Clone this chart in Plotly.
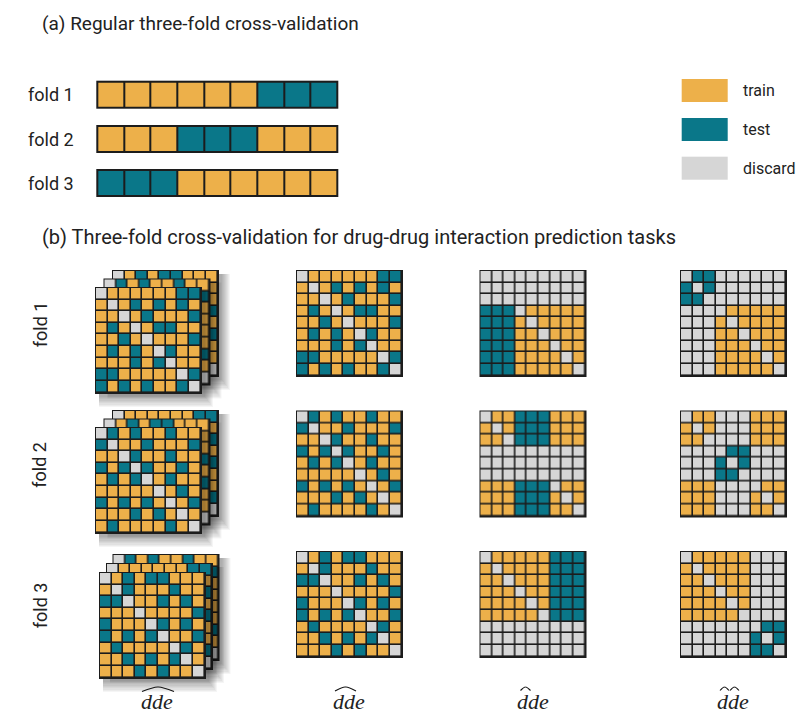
import plotly.graph_objects as go

# ---------------- data ----------------
CLASSES = ["train", "test", "discard"]
COLORS = ["#EDB04A", "#0A7789", "#D6D6D6"]
CODE = {"T": 0, "E": 1, "D": 2}

FOLD_LABELS = ["fold 1", "fold 2", "fold 3"]

# (a) regular three-fold CV: one row of 9 samples per fold
REGULAR_FOLDS = [
    "TTTTTTEEE",
    "TTTEEETTT",
    "EEETTTTTT",
]

# (b) column 2: random split of drug pairs
PAIR_SPLIT = [
    ["DTTTTTTEE", "TDTETETET", "TTDTETTTE", "TETDTEETT", "TTETDTTTE",
     "TETETDETT", "TTTETEDTT", "EETTTTTDE", "ETETETTED"],
    ["DETETTETT", "EDTTETTTE", "TTDETTETT", "ETEDETTET", "TETEDTETT",
     "TTTTTDTET", "ETETETDTE", "TTTETETDT", "TETTTTETD"],
    ["DTETEETTT", "TDETTTETT", "EEDTTETET", "TTTDTTTTE", "ETTTDETET",
     "ETETEDTTE", "TETTTTDET", "TTETETEDT", "TTTETETTD"],
]

# (b) column 3: one drug unseen
ONE_DRUG_SPLIT = [
    ["DDDDDDDDD", "DDDDDDDDD", "DDDDDDDDD", "EEEDTTTTT", "EEETDTTTT",
     "EEETTDTTT", "EEETTTDTT", "EEETTTTDT", "EEETTTTTD"],
    ["DTTEEETTT", "TDTEEETTT", "TTDEEETTT", "DDDDDDDDD", "DDDDDDDDD",
     "DDDDDDDDD", "TTTEEEDTT", "TTTEEETDT", "TTTEEETTD"],
    ["DTTTTTEEE", "TDTTTTEEE", "TTDTTTEEE", "TTTDTTEEE", "TTTTDTEEE",
     "TTTTTDEEE", "DDDDDDDDD", "DDDDDDDDD", "DDDDDDDDD"],
]

# (b) column 4: both drugs unseen
TWO_DRUG_SPLIT = [
    ["DEEDDDDDD", "EDEDDDDDD", "EEDDDDDDD", "DDDDTTTTT", "DDDTDTTTT",
     "DDDTTDTTT", "DDDTTTDTT", "DDDTTTTDT", "DDDTTTTTD"],
    ["DTTDDDTTT", "TDTDDDTTT", "TTDDDDTTT", "DDDDEEDDD", "DDDEDEDDD",
     "DDDEEDDDD", "TTTDDDDTT", "TTTDDDTDT", "TTTDDDTTD"],
    ["DTTTTTDDD", "TDTTTTDDD", "TTDTTTDDD", "TTTDTTDDD", "TTTTDTDDD",
     "TTTTTDDDD", "DDDDDDDEE", "DDDDDDEDE", "DDDDDDEED"],
]

# column 1: stacks of interaction-type matrices (back -> front) per fold
STACK_ORDER = [[2, 1, 0], [0, 2, 1], [1, 0, 2]]

COLUMN_LABELS = ["dde", "dde", "dde", "dde"]
TITLE_A = "(a) Regular three-fold cross-validation"
TITLE_B = "(b) Three-fold cross-validation for drug-drug interaction prediction tasks"

# ---------------- layout constants ----------------
W, H = 797, 715
FONT = "Roboto"
TXT = "#222222"
LINE = "#1c1c1c"
GRID = 104.5
N = 9
CELL = GRID / N

BAR_X0, BAR_CW, BAR_CH = 97.3, 26.67, 26.0
BAR_TOPS = [81.7, 126.0, 170.0]

COL_X = [297.0, 480.5, 681.0]
ROW_Y = [271.0, 411.5, 552.0]
STACK_POS = [
    [(113.0, 271.0), (104.5, 279.5), (96.0, 288.0)],
    [(113.0, 411.0), (104.5, 419.5), (96.0, 428.0)],
    [(113.5, 555.0), (107.0, 564.0), (100.0, 573.0)],
]
LEG_X0, LEG_W, LEG_H = 681.7, 46.0, 23.3
LEG_TOPS = [79.0, 118.0, 156.7]

CSCALE = [[0.0, COLORS[0]], [0.5, COLORS[1]], [1.0, COLORS[2]]]

fig = go.Figure()


def solid(x0, y0, w, h, color, opacity=1.0):
    fig.add_trace(go.Heatmap(
        z=[[0]], x0=x0 + w / 2, dx=w, y0=y0 + h / 2, dy=h,
        colorscale=[[0, color], [1, color]], showscale=False,
        hoverinfo="skip", opacity=opacity))


def cells(rows, x0, y0, cw, ch, gap, pad):
    z = [[CODE[c] for c in r] for r in rows]
    ncols, nrows = len(z[0]), len(z)
    solid(x0 - pad, y0 - pad, ncols * cw + 2 * pad, nrows * ch + 2 * pad, LINE)
    fig.add_trace(go.Heatmap(
        z=z, x0=x0 + cw / 2, dx=cw, y0=y0 + ch / 2, dy=ch,
        colorscale=CSCALE, zmin=0, zmax=2, showscale=False,
        xgap=gap, ygap=gap, hoverinfo="skip"))


def shadow(x0, y0, w, h):
    for k in range(1, 10):
        solid(x0 + 3, y0 + 3, w + 1.0 * k, h + 1.3 * k, "#000000", 0.04)


annotations = []


def text(x, y, s, size=16, xanchor="left", angle=0, family=FONT):
    annotations.append(dict(x=x, y=y, xref="x", yref="y", text=s,
                            showarrow=False, xanchor=xanchor, yanchor="middle",
                            textangle=angle,
                            font=dict(family=family, size=size, color=TXT)))


# (a)
text(40, 23, TITLE_A, size=19)
for i, row in enumerate(REGULAR_FOLDS):
    cells([row], BAR_X0, BAR_TOPS[i], BAR_CW, BAR_CH, gap=2, pad=1)
    text(26, BAR_TOPS[i] + BAR_CH / 2, FOLD_LABELS[i], size=18)

# legend
for i, name in enumerate(CLASSES):
    solid(LEG_X0, LEG_TOPS[i], LEG_W, LEG_H, COLORS[i])
    text(741, LEG_TOPS[i] + LEG_H / 2, name, size=16)

# (b)
text(40, 237, TITLE_B, size=20)
splits = [PAIR_SPLIT, ONE_DRUG_SPLIT, TWO_DRUG_SPLIT]
for f in range(3):
    # stacked interaction matrices
    for layer, src in enumerate(STACK_ORDER[f]):
        x0, y0 = STACK_POS[f][layer]
        shadow(x0, y0, GRID, GRID)
        cells(PAIR_SPLIT[src], x0, y0, CELL, CELL, gap=1.6, pad=1)
    for c, split in enumerate(splits):
        cells(split[f], COL_X[c], ROW_Y[f], CELL, CELL, gap=1.6, pad=1)
    text(40, ROW_Y[f] + GRID / 2 + 1, FOLD_LABELS[f], size=18,
         xanchor="center", angle=-90)

# column labels (italic serif) with hats
LABEL_CX = [157.0, 349.0, 532.5, 733.0]
LABEL_Y = 701
for c, lab in enumerate(COLUMN_LABELS):
    text(LABEL_CX[c], LABEL_Y, "<i>" + lab + "</i>", size=22,
         xanchor="center", family="Liberation Serif")

shapes = []


def hat(xa, xb, ytop, depth=4.5):
    xm = (xa + xb) / 2
    shapes.append(dict(type="path", xref="x", yref="y",
                       path=f"M {xa},{ytop + depth} Q {xm - (xb - xa) * 0.1},{ytop - 0.5} {xm},{ytop} Q {xm + (xb - xa) * 0.1},{ytop - 0.5} {xb},{ytop + depth}",
                       line=dict(color="#111111", width=1.1)))


HAT_Y = 687.0
cx = LABEL_CX
hat(cx[0] - 15, cx[0] + 17, HAT_Y)
hat(cx[1] - 14, cx[1] + 7, HAT_Y, 4)
hat(cx[2] - 12, cx[2] - 2, HAT_Y, 3.5)
hat(cx[3] - 13, cx[3] - 4, HAT_Y, 3.5)
hat(cx[3] - 3, cx[3] + 6, HAT_Y, 3.5)

fig.update_layout(
    width=W, height=H, autosize=False,
    margin=dict(l=0, r=0, t=0, b=0, pad=0),
    paper_bgcolor="white", plot_bgcolor="white",
    xaxis=dict(range=[0, W], visible=False, fixedrange=True),
    yaxis=dict(range=[H, 0], visible=False, fixedrange=True),
    annotations=annotations, shapes=shapes, showlegend=False,
)

fig.write_html("out.html", config={"displayModeBar": False},
               post_script="document.body.style.margin='0';document.body.style.overflow='hidden';")
